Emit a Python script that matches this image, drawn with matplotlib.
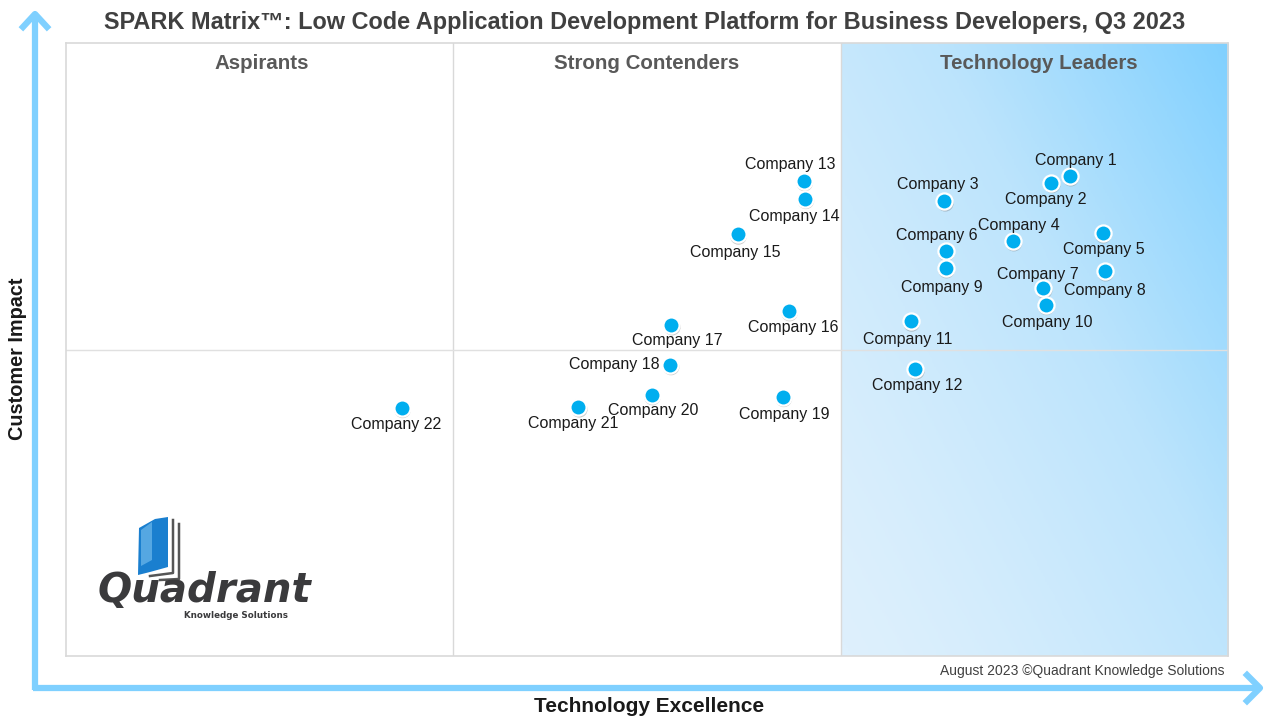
import matplotlib.pyplot as plt
import matplotlib.transforms as mtransforms
import numpy as np
from matplotlib.patches import Polygon
from matplotlib.colors import LinearSegmentedColormap

plt.rcParams['font.family'] = ['Liberation Sans', 'DejaVu Sans']

title = 'SPARK Matrix™: Low Code Application Development Platform for Business Developers, Q3 2023'
quadrants = ['Aspirants', 'Strong Contenders', 'Technology Leaders']
companies = ['Company %d' % i for i in range(1, 23)]
tech_excellence = [86.4, 84.8, 75.6, 81.5, 89.2, 75.7, 84.1, 89.4, 75.7, 84.3, 72.7,
                   73.1, 63.5, 63.6, 57.8, 62.2, 52.1, 52.0, 61.7, 50.4, 44.1, 28.9]
customer_impact = [78.3, 77.2, 74.2, 67.7, 69.0, 66.1, 60.0, 62.8, 63.3, 57.3, 54.6,
                   46.8, 77.5, 74.6, 68.8, 56.3, 54.0, 47.5, 42.3, 42.6, 40.6, 40.5]
footer = 'August 2023 ©Quadrant Knowledge Solutions'

# label offsets in points (dx, dy)
offsets = [(4, 11), (-4, -12), (-5, 12), (4, 11), (1, -12), (-6, 11), (-4, 10), (0, -14),
           (-3, -14), (1, -13), (-2, -13), (1, -12), (-10, 12), (-8, -13), (-2, -13),
           (3, -12), (4, -11), (-40, 0), (1, -13), (1, -11), (-4, -12), (-4, -12)]
header_shift = [2, 0, 4]  # px nudges of the quadrant titles

fig = plt.figure(figsize=(12.8, 7.2), dpi=100)
ax = fig.add_axes([66 / 1280, 64 / 720, 1162 / 1280, 613 / 720])
ax.set_xlim(0, 100)
ax.set_ylim(0, 100)

# leaders quadrant gradient
gx, gy = np.meshgrid(np.linspace(0, 1, 200), np.linspace(0, 1, 200))
grad = np.clip(0.55 * gx + 0.45 * gy, 0, 1) ** 1.3
cmap = LinearSegmentedColormap.from_list('lead', ['#def0fd', '#bce4fc', '#80d0ff'])
ax.imshow(grad, extent=[200 / 3, 100, 0, 100], origin='lower', cmap=cmap,
          aspect='auto', zorder=0)

for sp in ax.spines.values():
    sp.set_color('#d9d9d9')
    sp.set_linewidth(1.2)
ax.set_xticks([])
ax.set_yticks([])
ax.axvline(100 / 3, color='#d9d9d9', lw=1)
ax.axvline(200 / 3, color='#d9d9d9', lw=1)
ax.axhline(50, color='#e0e0e0', lw=1)

for i, q in enumerate(quadrants):
    ax.text((i + 0.5) * 100 / 3 + header_shift[i] / 11.62, 96.6, q, ha='center',
            va='center', fontsize=14.8, fontweight='bold', color='#595959')

shadow = ax.transData + mtransforms.ScaledTranslation(0.6 / 72, -1.5 / 72, fig.dpi_scale_trans)
ax.scatter(tech_excellence, customer_impact, s=145, color='#7a7a7a', alpha=0.4,
           zorder=3, edgecolors='none', transform=shadow)
ax.scatter(tech_excellence, customer_impact, s=135, color='#00aeef', edgecolors='white',
           linewidths=1.6, zorder=4)

for name, x, y, off in zip(companies, tech_excellence, customer_impact, offsets):
    ax.annotate(name, (x, y), xytext=off, textcoords='offset points', ha='center',
                va='center', fontsize=11.5, color='#1a1a1a', zorder=5)

fig.text(645 / 1280, 1 - 23 / 720, title, ha='center', va='center', fontsize=16.9,
         fontweight='bold', color='#404040')
fig.text(1224 / 1280, 1 - 671 / 720, footer, ha='right', va='center', fontsize=10,
         color='#404040')
fig.text(649 / 1280, 1 - 706 / 720, 'Technology Excellence', ha='center', va='center',
         fontsize=15, fontweight='bold', color='#1a1a1a')
fig.text(18 / 1280, 1 - 359 / 720, 'Customer Impact', ha='center', va='center',
         fontsize=14.3, fontweight='bold', color='#1a1a1a', rotation=90)

# axis arrows
def px(x, y):
    return x / 1280, 1 - y / 720

arrow_c = '#7fd0ff'
fig.add_artist(plt.Line2D(*zip(px(35, 690), px(35, 16)), color=arrow_c, lw=4.5,
                          solid_capstyle='butt'))
fig.add_artist(plt.Line2D(*zip(px(33, 688), px(1258, 688)), color=arrow_c, lw=4.5,
                          solid_capstyle='butt'))
fig.add_artist(plt.Line2D(*zip(px(23, 27), px(35, 14), px(47, 27)), color=arrow_c, lw=4.5))
fig.add_artist(plt.Line2D(*zip(px(1247, 675), px(1260, 688), px(1247, 701)), color=arrow_c,
                          lw=4.5))

# logo
book = Polygon([px(139, 528), px(155, 519), px(168, 517), px(168, 567), px(150, 572),
                px(138, 575)], closed=True, transform=fig.transFigure,
               facecolor='#1a7fcf', edgecolor='none')
fig.add_artist(book)
fig.add_artist(Polygon([px(141, 530), px(152, 522), px(152, 560), px(141, 566)], closed=True,
                       transform=fig.transFigure, facecolor='#7ec3f0', edgecolor='none',
                       alpha=0.6))
fig.add_artist(plt.Line2D(*zip(px(173, 520), px(173, 573), px(150, 576)), color='#555555',
                          lw=1.8))
fig.add_artist(plt.Line2D(*zip(px(179, 524), px(179, 579), px(160, 580)), color='#555555',
                          lw=1.8))
fig.text(204 / 1280, 1 - 591 / 720, 'Quadrant', ha='center', va='center', fontsize=29,
         fontweight='bold', style='italic', color='#3a3a3c', family='DejaVu Sans')
fig.text(236 / 1280, 1 - 616 / 720, 'Knowledge Solutions', ha='center', va='center',
         fontsize=6.3, fontweight='bold', color='#3a3a3c', family='DejaVu Sans')

fig.savefig('out.png', dpi=100)
